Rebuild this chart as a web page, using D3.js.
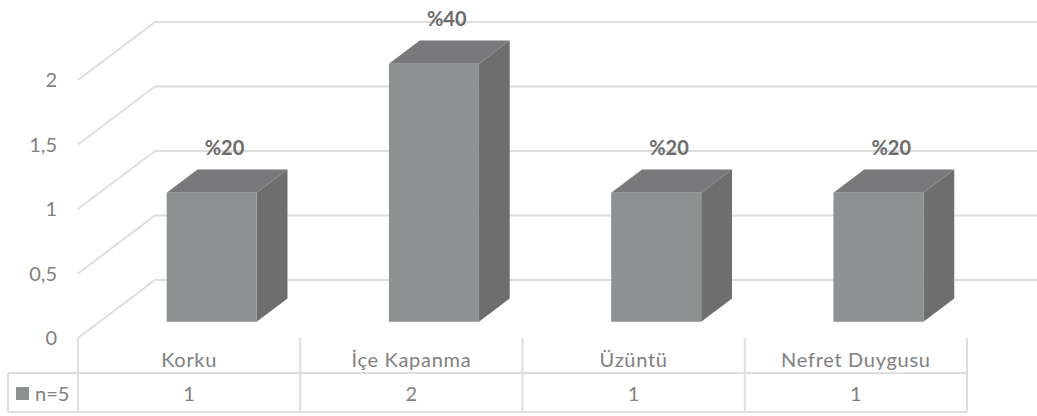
<!DOCTYPE html>
<html>
<head>
<meta charset="utf-8">
<script src="https://cdn.jsdelivr.net/npm/d3@7"></script>
<style>
  html, body { margin: 0; padding: 0; background: #fff; }
  svg { display: block; }
  text { font-family: Lato, "Open Sans", sans-serif; }
</style>
</head>
<body>
<svg id="chart" width="1037" height="416"></svg>
<script>
// Categories, series values and tick labels
const categories = ["Korku", "İçe Kapanma", "Üzüntü", "Nefret Duygusu"];
const seriesName = "n=5";
const counts = [1, 2, 1, 1];
const percentLabels = ["%20", "%40", "%20", "%20"];
const yTicks = [0, 0.5, 1, 1.5, 2];
const yTickLabels = ["0", "0,5", "1", "1,5", "2"];

const svg = d3.select("#chart");
const W = 1037, H = 416;

// Plot frame: front edge of the floor, and the depth vector to the back wall
const floorLeft = 78, floorRight = 967, floorFrontY = 338;
const depthX = 77, depthY = -58;          // full depth of the 3D box
const barFrontDepth = 0.28;                // bar front face, as a fraction of depth
const barDepth = 0.40;                     // bar thickness, as a fraction of depth

const x = d3.scaleBand().domain(categories).range([floorLeft, floorRight]);
const y = d3.scaleLinear().domain([0, 2]).range([0, 258]); // value -> height

// projection of a point (floor x, value, depth fraction) to screen
const P = (fx, v, f) => [fx + depthX * f, floorFrontY + depthY * f - y(v)];

const gridColor = "#dedede";
const textGray = "#808080";

// Back-wall gridlines and left-wall diagonals
const grid = svg.append("g");
yTicks.forEach(t => {
  const a = P(floorLeft, t, 0), b = P(floorLeft, t, 1);
  grid.append("path")
    .attr("d", `M${a[0]},${a[1]}L${b[0]},${b[1]}L${W},${b[1]}`)
    .attr("fill", "none").attr("stroke", gridColor).attr("stroke-width", 2);
});

// Y axis tick labels
svg.append("g").selectAll("text").data(yTicks).join("text")
  .attr("x", 57).attr("y", t => P(floorLeft, t, 0)[1])
  .attr("dy", "0.36em").attr("text-anchor", "end")
  .attr("font-size", 20).attr("fill", textGray)
  .text((t, i) => yTickLabels[i]);

// 3D bars
const barW = x.bandwidth() * 0.405;
const bars = svg.append("g");
const fmt = p => p.join(",");
categories.forEach((c, i) => {
  const v = counts[i];
  const x0 = x(c) + (x.bandwidth() - barW) / 2 + 1, x1 = x0 + barW;
  const f0 = barFrontDepth, f1 = barFrontDepth + barDepth;
  // side face
  bars.append("polygon")
    .attr("points", [P(x1, 0, f0), P(x1, 0, f1), P(x1, v, f1), P(x1, v, f0)].map(fmt).join(" "))
    .attr("fill", "#6e6e6e");
  // top face
  bars.append("polygon")
    .attr("points", [P(x0, v, f0), P(x1, v, f0), P(x1, v, f1), P(x0, v, f1)].map(fmt).join(" "))
    .attr("fill", "#79797c");
  // front face
  const tl = P(x0, v, f0), br = P(x1, 0, f0);
  bars.append("rect")
    .attr("x", tl[0]).attr("y", tl[1])
    .attr("width", br[0] - tl[0]).attr("height", br[1] - tl[1])
    .attr("fill", "#8d9192");
  // value label above the bar
  const top = P((x0 + x1) / 2, v, f1);
  bars.append("text")
    .attr("x", top[0] - 18).attr("y", top[1] - 15)
    .attr("text-anchor", "middle").attr("font-size", 20).attr("font-weight", "bold")
    .attr("fill", "#6b6b6b")
    .text(percentLabels[i]);
});

// Data table under the plot
const rowTop = floorFrontY, rowMid = 373, rowBot = 412, tableLeft = 8;
const table = svg.append("g").attr("stroke", gridColor).attr("stroke-width", 2).attr("fill", "none");
table.append("path").attr("d", `M${tableLeft},${rowMid}H${floorRight}M${tableLeft},${rowBot}H${floorRight}M${tableLeft},${rowMid}V${rowBot}`);
x.domain().concat([null]).forEach(c => {
  const xx = c === null ? floorRight : x(c);
  table.append("path").attr("d", `M${xx},${rowTop}V${rowBot}`);
});

// Category labels
svg.append("g").selectAll("text").data(categories).join("text")
  .attr("x", c => x(c) + x.bandwidth() / 2).attr("y", (rowTop + rowMid) / 2 + 4)
  .attr("dy", "0.36em").attr("text-anchor", "middle")
  .attr("font-size", 20).attr("fill", textGray).attr("letter-spacing", 0.7)
  .text(c => c);

// Values row
svg.append("g").selectAll("text").data(counts).join("text")
  .attr("x", (d, i) => x(categories[i]) + x.bandwidth() / 2).attr("y", (rowMid + rowBot) / 2 + 1)
  .attr("dy", "0.36em").attr("text-anchor", "middle")
  .attr("font-size", 20).attr("fill", textGray)
  .text(d => d);

// Legend key in the table's first column
svg.append("rect").attr("x", 16).attr("y", 387).attr("width", 13).attr("height", 13).attr("fill", "#8d9192");
svg.append("text").attr("x", 35).attr("y", (rowMid + rowBot) / 2 + 1).attr("dy", "0.36em")
  .attr("font-size", 20).attr("fill", textGray).text(seriesName);
</script>
</body>
</html>
